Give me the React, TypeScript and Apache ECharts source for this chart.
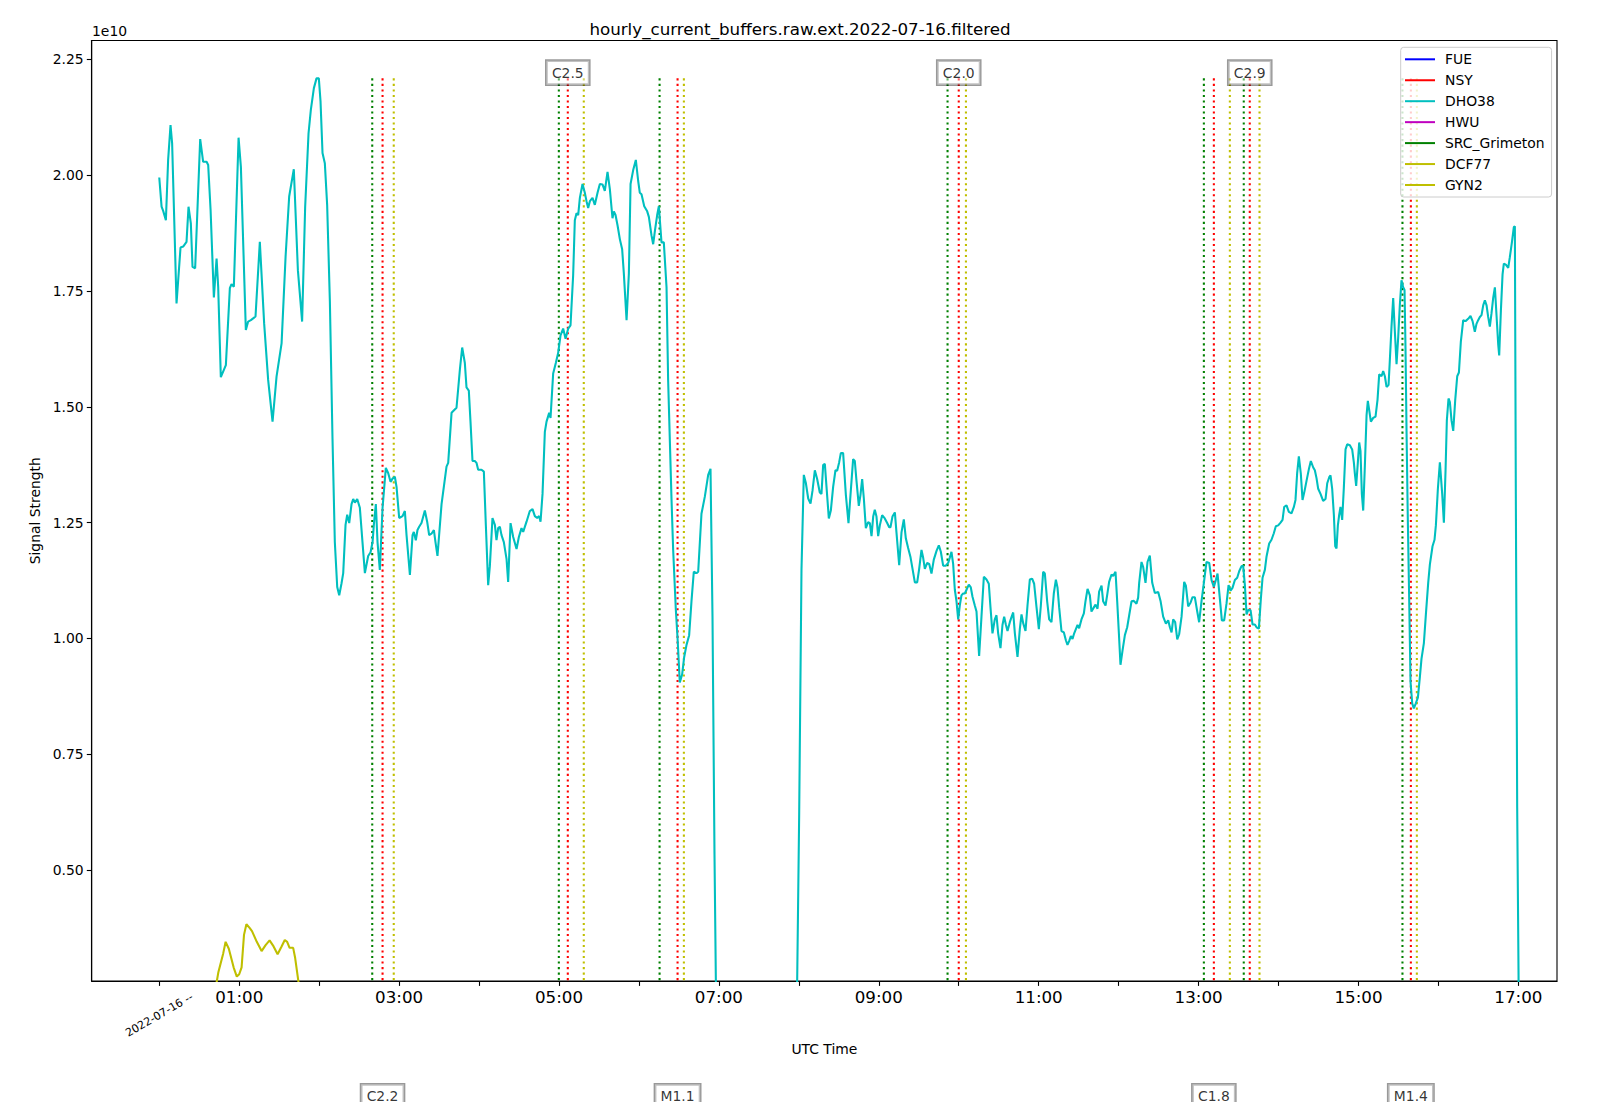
import React, { useEffect, useRef } from "react";
import * as echarts from "echarts";

// ---------- texts ----------
const TITLE = "hourly_current_buffers.raw.ext.2022-07-16.filtered";
const X_NAME = "UTC Time";
const Y_NAME = "Signal Strength";
const Y_EXP = "1e10";
const DATE_LABEL = "2022-07-16 --";

// ---------- legend / stations ----------
const stations = ["FUE", "NSY", "DHO38", "HWU", "SRC_Grimeton", "DCF77", "GYN2"];
const stationColors = ["#0000ff", "#ff0000", "#00bfbf", "#bf00bf", "#008000", "#bfbf00", "#bfbf00"];

// ---------- axes (x in hours since 00:00 UTC, y in units of 1e10) ----------
const xMin = -0.845;
const xMax = 17.483;
const yMin = 0.2604;
const yMax = 2.2908;
const xTickHours = [0, 1, 2, 3, 4, 5, 6, 7, 8, 9, 10, 11, 12, 13, 14, 15, 16, 17];
const xLabelHours = [1, 3, 5, 7, 9, 11, 13, 15, 17];
const dateLabelHours = [0];
const yTickValues = [0.5, 0.75, 1.0, 1.25, 1.5, 1.75, 2.0, 2.25];

// ---------- DHO38 signal [hour, value(1e10)] ----------
const dho38: [number, number][] = [
  [0.000, 1.995], [0.029, 1.932], [0.049, 1.923], [0.083, 1.903], [0.111, 2.033], [0.141, 2.108], [0.161, 2.069],
  [0.216, 1.723], [0.266, 1.844], [0.299, 1.846], [0.341, 1.856], [0.366, 1.932], [0.395, 1.896], [0.416, 1.802],
  [0.449, 1.799], [0.512, 2.078], [0.549, 2.029], [0.592, 2.029], [0.612, 2.022], [0.642, 1.925], [0.683, 1.736],
  [0.717, 1.820], [0.737, 1.759], [0.770, 1.564], [0.799, 1.576], [0.833, 1.590], [0.883, 1.756], [0.904, 1.765],
  [0.933, 1.759], [0.992, 2.081], [1.021, 2.018], [1.083, 1.666], [1.112, 1.684], [1.146, 1.687], [1.204, 1.695],
  [1.258, 1.856], [1.312, 1.680], [1.362, 1.558], [1.417, 1.468], [1.467, 1.565], [1.530, 1.637], [1.580, 1.824],
  [1.625, 1.954], [1.683, 2.013], [1.734, 1.795], [1.787, 1.684], [1.825, 1.932], [1.867, 2.090], [1.896, 2.141],
  [1.934, 2.188], [1.967, 2.209], [1.996, 2.209], [2.017, 2.160], [2.042, 2.048], [2.071, 2.026], [2.100, 1.936],
  [2.134, 1.728], [2.167, 1.431], [2.196, 1.208], [2.226, 1.111], [2.251, 1.093], [2.280, 1.119], [2.301, 1.141],
  [2.330, 1.245], [2.351, 1.267], [2.376, 1.249], [2.405, 1.290], [2.426, 1.301], [2.447, 1.293], [2.476, 1.301],
  [2.509, 1.282], [2.542, 1.208], [2.572, 1.141], [2.613, 1.178], [2.643, 1.186], [2.668, 1.208], [2.684, 1.245],
  [2.709, 1.290], [2.730, 1.208], [2.759, 1.148], [2.793, 1.282], [2.834, 1.368], [2.863, 1.357], [2.893, 1.338],
  [2.918, 1.345], [2.947, 1.349], [2.968, 1.327], [3.001, 1.260], [3.043, 1.264], [3.072, 1.275], [3.093, 1.223],
  [3.135, 1.137], [3.168, 1.223], [3.184, 1.230], [3.209, 1.212], [3.230, 1.234], [3.251, 1.241], [3.280, 1.249],
  [3.322, 1.276], [3.351, 1.252], [3.376, 1.223], [3.405, 1.226], [3.435, 1.234], [3.455, 1.208], [3.480, 1.178],
  [3.531, 1.290], [3.593, 1.371], [3.614, 1.379], [3.656, 1.487], [3.718, 1.498], [3.760, 1.580], [3.789, 1.628],
  [3.822, 1.595], [3.843, 1.542], [3.872, 1.535], [3.893, 1.468], [3.918, 1.383], [3.947, 1.383], [3.968, 1.379],
  [3.989, 1.364], [4.031, 1.364], [4.060, 1.360], [4.085, 1.245], [4.114, 1.115], [4.135, 1.156], [4.168, 1.260],
  [4.198, 1.245], [4.218, 1.212], [4.239, 1.238], [4.260, 1.241], [4.281, 1.223], [4.310, 1.208], [4.344, 1.171],
  [4.364, 1.122], [4.394, 1.249], [4.427, 1.219], [4.469, 1.193], [4.498, 1.219], [4.531, 1.238], [4.552, 1.230],
  [4.594, 1.252], [4.635, 1.275], [4.669, 1.279], [4.698, 1.264], [4.727, 1.260], [4.752, 1.264], [4.769, 1.252],
  [4.794, 1.312], [4.823, 1.446], [4.844, 1.468], [4.877, 1.487], [4.894, 1.476], [4.927, 1.572], [4.961, 1.595],
  [4.990, 1.617], [5.019, 1.654], [5.052, 1.669], [5.082, 1.647], [5.115, 1.669], [5.144, 1.676], [5.177, 1.784],
  [5.198, 1.903], [5.219, 1.918], [5.240, 1.914], [5.261, 1.951], [5.294, 1.981], [5.323, 1.962], [5.344, 1.944],
  [5.365, 1.929], [5.386, 1.944], [5.419, 1.951], [5.448, 1.936], [5.482, 1.962], [5.511, 1.981], [5.544, 1.980],
  [5.573, 1.966], [5.607, 2.007], [5.636, 1.970], [5.669, 1.907], [5.686, 1.922], [5.707, 1.914], [5.732, 1.892],
  [5.761, 1.862], [5.790, 1.840], [5.811, 1.788], [5.845, 1.687], [5.874, 1.788], [5.895, 1.981], [5.928, 2.011],
  [5.961, 2.033], [5.990, 1.988], [6.011, 1.962], [6.032, 1.959], [6.066, 1.933], [6.103, 1.922], [6.124, 1.910],
  [6.157, 1.870], [6.178, 1.851], [6.203, 1.884], [6.228, 1.914], [6.249, 1.933], [6.282, 1.855], [6.311, 1.855],
  [6.345, 1.758], [6.365, 1.558], [6.407, 1.302], [6.428, 1.191], [6.461, 1.063], [6.482, 1.003], [6.511, 0.905],
  [6.540, 0.922], [6.566, 0.960], [6.595, 0.986], [6.628, 1.007], [6.657, 1.080], [6.686, 1.144], [6.720, 1.141],
  [6.741, 1.144], [6.782, 1.269], [6.824, 1.306], [6.866, 1.353], [6.895, 1.366], [6.920, 1.046], [6.945, 0.533],
  [6.962, 0.260], [6.975, 0.0], [7.962, 0.0], [7.979, 0.260], [8.004, 0.619], [8.033, 1.148], [8.062, 1.353],
  [8.087, 1.336], [8.117, 1.302], [8.146, 1.291], [8.171, 1.319], [8.200, 1.363], [8.229, 1.344], [8.262, 1.315],
  [8.283, 1.312], [8.304, 1.374], [8.325, 1.377], [8.346, 1.327], [8.375, 1.259], [8.400, 1.276], [8.429, 1.327],
  [8.458, 1.363], [8.479, 1.362], [8.504, 1.380], [8.525, 1.400], [8.554, 1.400], [8.588, 1.310], [8.621, 1.249],
  [8.646, 1.310], [8.679, 1.387], [8.700, 1.383], [8.721, 1.340], [8.750, 1.286], [8.771, 1.310], [8.792, 1.344],
  [8.813, 1.302], [8.838, 1.238], [8.867, 1.251], [8.888, 1.249], [8.909, 1.221], [8.930, 1.263], [8.950, 1.278],
  [8.971, 1.263], [8.992, 1.221], [9.013, 1.244], [9.042, 1.266], [9.075, 1.259], [9.105, 1.249], [9.130, 1.240],
  [9.146, 1.240], [9.171, 1.263], [9.201, 1.272], [9.221, 1.229], [9.255, 1.158], [9.284, 1.229], [9.313, 1.257],
  [9.338, 1.216], [9.367, 1.195], [9.397, 1.175], [9.422, 1.150], [9.451, 1.121], [9.480, 1.121], [9.505, 1.150],
  [9.534, 1.191], [9.555, 1.174], [9.576, 1.150], [9.605, 1.163], [9.630, 1.161], [9.659, 1.140], [9.688, 1.170],
  [9.722, 1.189], [9.751, 1.201], [9.776, 1.187], [9.805, 1.157], [9.838, 1.157], [9.868, 1.163], [9.889, 1.175],
  [9.909, 1.187], [9.930, 1.161], [9.951, 1.105], [9.972, 1.080], [9.993, 1.041], [10.013, 1.071], [10.034, 1.093],
  [10.055, 1.097], [10.076, 1.097], [10.097, 1.105], [10.126, 1.116], [10.151, 1.110], [10.172, 1.090], [10.201, 1.071],
  [10.222, 1.058], [10.255, 0.962], [10.284, 1.046], [10.314, 1.133], [10.347, 1.127], [10.376, 1.118], [10.397, 1.067],
  [10.422, 1.011], [10.451, 1.041], [10.472, 1.050], [10.493, 1.011], [10.522, 0.979], [10.547, 1.029], [10.568, 1.047],
  [10.589, 1.030], [10.610, 1.016], [10.639, 1.035], [10.660, 1.046], [10.681, 1.056], [10.702, 1.011], [10.735, 0.960],
  [10.764, 1.020], [10.785, 1.052], [10.806, 1.033], [10.835, 1.016], [10.860, 1.071], [10.889, 1.127], [10.918, 1.129],
  [10.943, 1.118], [10.973, 1.067], [11.002, 1.020], [11.027, 1.071], [11.056, 1.144], [11.077, 1.140], [11.106, 1.080],
  [11.131, 1.041], [11.160, 1.035], [11.189, 1.097], [11.215, 1.127], [11.235, 1.110], [11.256, 1.067], [11.285, 1.016],
  [11.315, 1.013], [11.340, 0.996], [11.360, 0.986], [11.381, 0.994], [11.402, 1.005], [11.423, 0.999], [11.444, 1.011],
  [11.465, 1.020], [11.486, 1.029], [11.506, 1.022], [11.535, 1.041], [11.565, 1.054], [11.585, 1.080], [11.611, 1.107],
  [11.640, 1.093], [11.660, 1.058], [11.690, 1.067], [11.711, 1.073], [11.736, 1.064], [11.756, 1.101], [11.786, 1.114],
  [11.806, 1.080], [11.836, 1.071], [11.856, 1.093], [11.881, 1.122], [11.911, 1.138], [11.932, 1.135], [11.961, 1.144],
  [11.982, 1.080], [12.003, 1.011], [12.023, 0.943], [12.048, 0.973], [12.078, 1.007], [12.107, 1.024], [12.132, 1.050],
  [12.161, 1.080], [12.190, 1.081], [12.223, 1.075], [12.244, 1.088], [12.257, 1.120], [12.286, 1.165], [12.307, 1.154],
  [12.336, 1.120], [12.361, 1.165], [12.390, 1.179], [12.420, 1.120], [12.453, 1.098], [12.495, 1.100], [12.524, 1.081],
  [12.557, 1.047], [12.591, 1.032], [12.620, 1.039], [12.641, 1.024], [12.662, 1.013], [12.682, 1.041], [12.707, 1.035],
  [12.733, 0.998], [12.757, 1.009], [12.787, 1.047], [12.820, 1.122], [12.841, 1.114], [12.870, 1.069], [12.899, 1.077],
  [12.924, 1.089], [12.953, 1.089], [12.983, 1.058], [13.007, 1.035], [13.037, 1.081], [13.066, 1.120], [13.099, 1.165],
  [13.133, 1.163], [13.162, 1.126], [13.191, 1.111], [13.216, 1.126], [13.237, 1.140], [13.266, 1.086], [13.291, 1.039],
  [13.320, 1.039], [13.349, 1.075], [13.375, 1.115], [13.400, 1.103], [13.424, 1.109], [13.454, 1.126], [13.483, 1.131],
  [13.508, 1.145], [13.537, 1.156], [13.558, 1.156], [13.579, 1.115], [13.600, 1.052], [13.620, 1.061], [13.650, 1.061],
  [13.675, 1.030], [13.704, 1.030], [13.725, 1.024], [13.754, 1.021], [13.779, 1.086], [13.800, 1.131], [13.829, 1.148],
  [13.850, 1.177], [13.883, 1.205], [13.912, 1.213], [13.941, 1.227], [13.966, 1.242], [13.996, 1.244], [14.025, 1.250],
  [14.050, 1.256], [14.071, 1.284], [14.100, 1.287], [14.129, 1.273], [14.162, 1.270], [14.192, 1.284], [14.212, 1.299],
  [14.233, 1.357], [14.254, 1.393], [14.279, 1.355], [14.300, 1.299], [14.325, 1.318], [14.350, 1.340], [14.379, 1.365],
  [14.404, 1.383], [14.434, 1.369], [14.454, 1.363], [14.475, 1.346], [14.496, 1.323], [14.525, 1.312], [14.558, 1.297],
  [14.588, 1.301], [14.609, 1.335], [14.634, 1.348], [14.650, 1.352], [14.671, 1.323], [14.692, 1.267], [14.709, 1.199],
  [14.725, 1.194], [14.742, 1.244], [14.759, 1.267], [14.775, 1.284], [14.796, 1.256], [14.817, 1.326], [14.838, 1.408],
  [14.859, 1.419], [14.892, 1.417], [14.921, 1.408], [14.942, 1.380], [14.954, 1.357], [14.971, 1.329], [14.992, 1.380],
  [15.009, 1.423], [15.025, 1.405], [15.042, 1.312], [15.059, 1.276], [15.080, 1.374], [15.101, 1.482], [15.117, 1.513],
  [15.134, 1.493], [15.155, 1.468], [15.184, 1.476], [15.213, 1.479], [15.238, 1.515], [15.259, 1.570], [15.288, 1.566],
  [15.309, 1.577], [15.330, 1.566], [15.351, 1.543], [15.376, 1.547], [15.392, 1.600], [15.413, 1.673], [15.434, 1.735],
  [15.455, 1.662], [15.476, 1.592], [15.497, 1.651], [15.517, 1.719], [15.538, 1.773], [15.559, 1.758], [15.576, 1.752],
  [15.588, 1.628], [15.601, 1.448], [15.617, 1.256], [15.634, 1.086], [15.651, 0.906], [15.672, 0.860], [15.692, 0.849],
  [15.717, 0.860], [15.743, 0.872], [15.768, 0.917], [15.788, 0.956], [15.818, 0.990], [15.843, 1.052], [15.872, 1.120],
  [15.893, 1.160], [15.926, 1.199], [15.951, 1.213], [15.968, 1.244], [15.993, 1.323], [16.018, 1.380], [16.047, 1.312],
  [16.068, 1.250], [16.089, 1.363], [16.105, 1.470], [16.126, 1.518], [16.143, 1.510], [16.164, 1.470], [16.185, 1.448],
  [16.210, 1.515], [16.235, 1.566], [16.256, 1.574], [16.280, 1.640], [16.310, 1.687], [16.339, 1.685], [16.372, 1.690],
  [16.401, 1.696], [16.427, 1.685], [16.455, 1.662], [16.476, 1.679], [16.497, 1.687], [16.518, 1.694], [16.539, 1.698],
  [16.560, 1.719], [16.581, 1.730], [16.602, 1.719], [16.622, 1.694], [16.643, 1.673], [16.664, 1.702], [16.685, 1.735],
  [16.706, 1.758], [16.727, 1.696], [16.748, 1.634], [16.760, 1.611], [16.781, 1.707], [16.802, 1.786], [16.818, 1.809],
  [16.843, 1.807], [16.873, 1.800], [16.893, 1.823], [16.918, 1.854], [16.943, 1.888], [16.956, 1.890], [16.968, 1.312],
  [16.985, 0.635], [17.002, 0.273], [17.010, 0.0],
];

// ---------- DCF77 signal [hour, value(1e10)] ----------
const dcf77: [number, number][] = [
  [0.660, 0.200], [0.740, 0.280], [0.800, 0.320], [0.830, 0.345], [0.870, 0.330], [0.930, 0.290], [0.970, 0.270],
  [1.000, 0.275], [1.030, 0.290], [1.060, 0.360], [1.090, 0.383], [1.130, 0.375], [1.160, 0.368], [1.220, 0.345],
  [1.280, 0.325], [1.330, 0.338], [1.380, 0.348], [1.430, 0.335], [1.480, 0.318], [1.530, 0.335], [1.570, 0.349],
  [1.600, 0.345], [1.630, 0.332], [1.675, 0.332], [1.700, 0.310], [1.740, 0.260], [1.780, 0.200],
];

// ---------- solar flares (hours): start / peak / end, class label ----------
const flareStart = [2.664, 4.998, 6.258, 9.860, 13.066, 13.565, 15.550];
const flarePeak = [2.793, 5.110, 6.483, 10.000, 13.191, 13.640, 15.655];
const flareEnd = [2.933, 5.310, 6.562, 10.090, 13.391, 13.762, 15.730];
const flareClass = ["C2.2", "C2.5", "M1.1", "C2.0", "C1.8", "C2.9", "M1.4"];
const flareLabelY = [0, 2.21, 0, 2.21, 0, 2.21, 0];
const flareLineBottom = 0;
const flareLineTop = 2.21;

const FONT = "DejaVu Sans";
const LW = 2.08;

function vlineData(times: number[]) {
  const out: any[] = [];
  times.forEach((t) => {
    out.push([t, flareLineBottom], [t, flareLineTop], [t, "-"]);
  });
  return out;
}

function hourLabel(h: number) {
  return String(Math.round(h)).padStart(2, "0") + ":00";
}

export default function App() {
  const ref = useRef<HTMLDivElement>(null);

  useEffect(() => {
    if (!ref.current) return;
    const chart = echarts.init(ref.current, null, { renderer: "svg" });

    const stationSeries = stations.map((name, i) => ({
      name,
      type: "line",
      data: name === "DHO38" ? dho38 : name === "DCF77" ? dcf77 : [],
      color: stationColors[i],
      showSymbol: false,
      symbol: "none",
      lineStyle: { width: LW, color: stationColors[i] },
      clip: true,
      z: 3,
      silent: true,
    }));

    const vlineSeries = [
      { name: "_flare_start", times: flareStart, color: "#008000" },
      { name: "_flare_peak", times: flarePeak, color: "#ff0000" },
      { name: "_flare_end", times: flareEnd, color: "#bfbf00" },
    ].map((v) => ({
      name: v.name,
      type: "line",
      data: vlineData(v.times),
      showSymbol: false,
      symbol: "none",
      connectNulls: false,
      clip: true,
      z: 2,
      silent: true,
      lineStyle: { width: LW, color: v.color, type: [LW, 3.44] },
    }));

    const labelSeries = {
      name: "_flare_labels",
      type: "scatter",
      clip: false,
      z: 6,
      silent: true,
      symbol: "rect",
      symbolSize: 1,
      itemStyle: { color: "rgba(0,0,0,0)" },
      data: flarePeak.map((t, i) => ({ value: [t, flareLabelY[i]], name: flareClass[i] })),
      label: {
        show: true,
        position: "inside",
        offset: [0, -5.3],
        formatter: (p: any) => p.name,
        fontFamily: FONT,
        fontSize: 13.9,
        lineHeight: 14,
        color: "#000",
        backgroundColor: "rgba(255,255,255,0.5)",
        borderColor: "rgba(0,0,0,0.5)",
        borderWidth: 1.4,
        padding: [5, 5.5, 5, 5.5],
      },
    };

    chart.setOption({
      animation: false,
      backgroundColor: "#ffffff",
      title: {
        text: TITLE,
        left: "center",
        top: 20,
        padding: 0,
        textStyle: { fontFamily: FONT, fontSize: 16.7, fontWeight: "normal", color: "#000" },
      },
      legend: {
        data: stations.map((s) => ({ name: s, icon: "rect" })),
        orient: "vertical",
        left: 1400.7,
        top: 47.3,
        itemWidth: 30,
        itemHeight: 2,
        itemGap: 6.95,
        padding: [5, 7, 5, 4.3],
        backgroundColor: "rgba(255,255,255,0.8)",
        borderColor: "#cccccc",
        borderWidth: 1,
        borderRadius: 3,
        selectedMode: false,
        textStyle: { fontFamily: FONT, fontSize: 13.9, lineHeight: 14, color: "#000", padding: [0, 0, 0, 5] },
      },
      grid: {
        left: 91.7,
        right: 43,
        top: 40.5,
        bottom: 121,
        show: true,
        borderColor: "#000",
        borderWidth: 1.1,
        backgroundColor: "#ffffff",
      },
      graphic: [
        {
          type: "text",
          left: 92,
          top: 23.5,
          style: { text: Y_EXP, fontFamily: FONT, fontSize: 13.9, fill: "#000" },
        },
      ],
      xAxis: [
        {
          type: "value",
          min: xMin,
          max: xMax,
          splitLine: { show: false },
          axisLine: { show: true, onZero: false, lineStyle: { color: "#000", width: 1.1 } },
          axisTick: { show: true, length: 4.9, customValues: xTickHours, lineStyle: { color: "#000", width: 1.1 } },
          axisLabel: {
            customValues: xLabelHours,
            formatter: (v: number) => hourLabel(v),
            fontFamily: FONT,
            fontSize: 16.7,
            color: "#000",
            margin: 7,
          },
          name: X_NAME,
          nameLocation: "middle",
          nameGap: 61,
          nameTextStyle: { fontFamily: FONT, fontSize: 13.9, color: "#000" },
        },
        {
          type: "value",
          min: xMin,
          max: xMax,
          position: "bottom",
          splitLine: { show: false },
          axisLine: { show: false, onZero: false },
          axisTick: { show: false },
          axisLabel: {
            customValues: dateLabelHours,
            formatter: () => DATE_LABEL,
            rotate: 30,
            align: "center",
            verticalAlign: "middle",
            margin: 34,
            fontFamily: FONT,
            fontSize: 11.1,
            color: "#000",
          },
        },
      ],
      yAxis: {
        type: "value",
        min: yMin,
        max: yMax,
        splitLine: { show: false },
        axisLine: { show: true, onZero: false, lineStyle: { color: "#000", width: 1.1 } },
        axisTick: { show: true, length: 4.9, customValues: yTickValues, lineStyle: { color: "#000", width: 1.1 } },
        axisLabel: {
          customValues: yTickValues,
          formatter: (v: number) => v.toFixed(2),
          fontFamily: FONT,
          fontSize: 13.9,
          color: "#000",
          margin: 8,
        },
        name: Y_NAME,
        nameLocation: "middle",
        nameGap: 48,
        nameTextStyle: { fontFamily: FONT, fontSize: 13.9, color: "#000" },
      },
      series: [...vlineSeries, ...stationSeries, labelSeries],
    });

    return () => chart.dispose();
  }, []);

  return (
    <div
      ref={ref}
      style={{ position: "fixed", left: 0, top: 0, width: "1600px", height: "1102px", background: "#fff" }}
    />
  );
}
